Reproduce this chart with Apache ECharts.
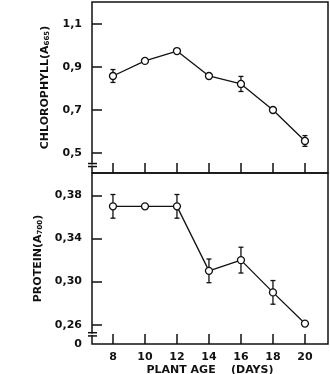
<!DOCTYPE html>
<html>
<head>
<meta charset="UTF-8">
<title>chlorophyll / protein</title>
<script src="https://cdn.jsdelivr.net/npm/echarts@6/dist/echarts.min.js"></script>
<style>html,body{margin:0;padding:0;background:#fff;}</style>
</head>
<body>
<div id="chart" style="width:330px;height:374px;"></div>
<script>
// data
var days = [8, 10, 12, 14, 16, 18, 20];
var chlorophyll = [0.858, 0.928, 0.974, 0.858, 0.821, 0.700, 0.556];
var chlorophyllErr = [0.03, 0, 0, 0, 0.035, 0, 0.025];
var protein = [0.370, 0.370, 0.370, 0.310, 0.320, 0.290, 0.261];
var proteinErr = [0.011, 0, 0.011, 0.011, 0.012, 0.011, 0];
var chlTicks = [0.5, 0.7, 0.9, 1.1];
var protTicks = [0.26, 0.30, 0.34, 0.38];
var dayTicks = [8, 10, 12, 14, 16, 18, 20];

var font = 'DejaVu Sans, sans-serif';
var ink = '#111';

function pairs(ys) {
    return days.map(function (d, i) { return [d, ys[i]]; });
}
function errRows(ys, es) {
    return days.map(function (d, i) { return [d, ys[i], es[i]]; });
}
function errItem(params, api) {
    var e = api.value(2);
    if (!e) return;
    var x = api.value(0), y = api.value(1);
    var lo = api.coord([x, y - e]);
    var hi = api.coord([x, y + e]);
    var w = 2.5;
    var st = { stroke: ink, lineWidth: 1.3 };
    return {
        type: 'group',
        children: [
            { type: 'line', shape: { x1: lo[0], y1: lo[1], x2: hi[0], y2: hi[1] }, style: st },
            { type: 'line', shape: { x1: lo[0] - w, y1: lo[1], x2: lo[0] + w, y2: lo[1] }, style: st },
            { type: 'line', shape: { x1: hi[0] - w, y1: hi[1], x2: hi[0] + w, y2: hi[1] }, style: st }
        ]
    };
}

var myChart = echarts.init(document.getElementById('chart'));

var xBase = {
    type: 'value', min: 6.69, max: 21.44,
    axisLine: { show: false },
    axisTick: { show: true, inside: true, length: 10, customValues: dayTicks, lineStyle: { color: ink, width: 1.5 } },
    splitLine: { show: false }
};
var yBase = {
    type: 'value',
    axisLine: { show: false },
    splitLine: { show: false },
    nameLocation: 'middle',
    nameRotate: 90,
    nameGap: 41,
    nameTextStyle: {
        rich: {
            a: { fontFamily: font, fontWeight: 'bold', fontSize: 11, color: ink },
            s: { fontFamily: font, fontWeight: 'bold', fontSize: 7, color: ink, verticalAlign: 'bottom', padding: [3, 0, 0, 0] }
        }
    }
};

var option = {
    animation: false,
    grid: [
        { left: 92, top: 2, width: 236, height: 171, show: true, borderColor: ink, borderWidth: 1.5, containLabel: false, outerBoundsMode: 'none' },
        { left: 92, top: 173, width: 236, height: 171, show: true, borderColor: ink, borderWidth: 1.5, containLabel: false, outerBoundsMode: 'none' }
    ],
    xAxis: [
        Object.assign({}, xBase, { gridIndex: 0, axisLabel: { show: false } }),
        Object.assign({}, xBase, {
            gridIndex: 1,
            name: 'PLANT AGE    (DAYS)',
            nameLocation: 'middle',
            nameGap: 21,
            nameTextStyle: { fontFamily: font, fontWeight: 'bold', fontSize: 11, color: ink, verticalAlign: 'top' },
            axisLabel: { show: true, customValues: dayTicks, margin: 8, fontFamily: font, fontWeight: 'bold', fontSize: 11, color: ink }
        })
    ],
    yAxis: [
        Object.assign({}, yBase, {
            gridIndex: 0, min: 0.407, max: 1.202,
            name: '{a|CHLOROPHYLL(A}{s|665}{a|)}',
            axisTick: { inside: true, length: 10, customValues: chlTicks, lineStyle: { color: ink, width: 1.5 } },
            axisLabel: {
                customValues: chlTicks, margin: 10, fontFamily: font, fontWeight: 'bold', fontSize: 11, color: ink,
                formatter: function (v) { return v.toFixed(1).replace('.', ','); }
            }
        }),
        Object.assign({}, yBase, {
            gridIndex: 1, min: 0.242, max: 0.401,
            name: '{a|PROTEIN(A}{s|700}{a|)}',
            axisTick: { inside: true, length: 10, customValues: protTicks, lineStyle: { color: ink, width: 1.5 } },
            axisLabel: {
                customValues: [0.242].concat(protTicks), margin: 10, fontFamily: font, fontWeight: 'bold', fontSize: 11, color: ink,
                formatter: function (v) { return v < 0.25 ? '0' : v.toFixed(2).replace('.', ','); }
            }
        })
    ],
    series: [
        { type: 'custom', xAxisIndex: 0, yAxisIndex: 0, renderItem: errItem, data: errRows(chlorophyll, chlorophyllErr), z: 2 },
        { type: 'custom', xAxisIndex: 1, yAxisIndex: 1, renderItem: errItem, data: errRows(protein, proteinErr), z: 2 },
        {
            type: 'line', xAxisIndex: 0, yAxisIndex: 0, data: pairs(chlorophyll), z: 3,
            symbol: 'circle', symbolSize: 7,
            lineStyle: { color: ink, width: 1.3 },
            itemStyle: { color: '#fff', borderColor: ink, borderWidth: 1.3 }
        },
        {
            type: 'line', xAxisIndex: 1, yAxisIndex: 1, data: pairs(protein), z: 3,
            symbol: 'circle', symbolSize: 7,
            lineStyle: { color: ink, width: 1.3 },
            itemStyle: { color: '#fff', borderColor: ink, borderWidth: 1.3 }
        }
    ]
};
myChart.setOption(option);

// axis break marks ("=") on the left axis of each panel
function breakMarks(gridIndex, v1, v2) {
    var a = myChart.convertToPixel({ gridIndex: gridIndex }, [6.69, v1]);
    var b = myChart.convertToPixel({ gridIndex: gridIndex }, [6.69, v2]);
    var st = { stroke: ink, lineWidth: 1.5 };
    return [
        { type: 'rect', shape: { x: a[0] - 2, y: b[1] + 1, width: 4, height: a[1] - b[1] - 2 }, style: { fill: '#fff' }, z: 10 },
        { type: 'line', shape: { x1: a[0] - 4, y1: a[1], x2: a[0] + 5, y2: a[1] }, style: st, z: 11 },
        { type: 'line', shape: { x1: b[0] - 4, y1: b[1], x2: b[0] + 5, y2: b[1] }, style: st, z: 11 }
    ];
}
myChart.setOption({
    graphic: breakMarks(0, 0.437, 0.451).concat(breakMarks(1, 0.2495, 0.2525))
});
</script>
</body>
</html>
